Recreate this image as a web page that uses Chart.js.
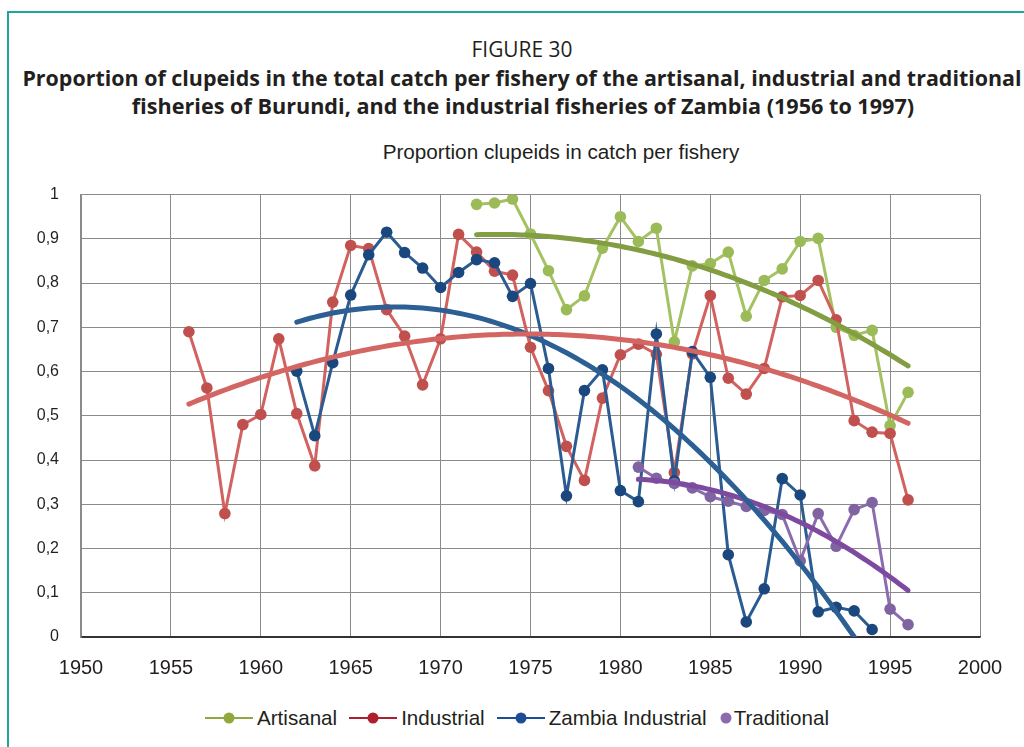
<!DOCTYPE html>
<html>
<head>
<meta charset="utf-8">
<script src="https://cdn.jsdelivr.net/npm/chart.js@4.4.1/dist/chart.umd.min.js"></script>
<style>
html,body{margin:0;padding:0;background:#fff;width:1024px;height:747px;overflow:hidden;position:relative;}
#frame{position:absolute;left:7px;top:11px;width:1100px;height:800px;border-left:2px solid #1fa59a;border-top:2px solid #1fa59a;}
.t{position:absolute;white-space:nowrap;color:#231f20;transform:translate(-50%,-50%);line-height:1;}
#fig{font-family:"Open Sans","Noto Sans",sans-serif;font-weight:400;font-size:18px;}
.bold{font-family:"Open Sans","Noto Sans",sans-serif;font-weight:700;font-size:20px;}
#sub{font-family:"Liberation Sans",Arial,sans-serif;font-size:20px;}
#wrap{position:absolute;left:0;top:163px;width:1024px;height:527px;}
#legend{position:absolute;left:205px;top:718px;transform:translateY(-50%);display:flex;align-items:center;font-family:"Liberation Sans",Arial,sans-serif;font-size:20.6px;color:#231f20;white-space:nowrap;}
#legend .item{display:flex;align-items:center;margin-right:12px;}
#legend svg{display:block;}
#legend span{margin-left:4px;}
</style>
</head>
<body>
<div id="frame"></div>
<div class="t" id="fig" style="left:522px;top:49px;">FIGURE 30</div>
<div class="t bold" id="l1" style="left:522px;top:78px;">Proportion of clupeids in the total catch per fishery of the artisanal, industrial and traditional</div>
<div class="t bold" id="l2" style="left:523px;top:106px;">fisheries of Burundi, and the industrial fisheries of Zambia (1956 to 1997)</div>
<div class="t" id="sub" style="left:561px;top:152px;">Proportion clupeids in catch per fishery</div>
<div id="wrap"><canvas id="c" width="1024" height="527"></canvas></div>
<div id="legend"></div>
<script>
// ---- Data ----
const artisanalYears = [1972,1973,1974,1975,1976,1977,1978,1979,1980,1981,1982,1983,1984,1985,1986,1987,1988,1989,1990,1991,1992,1993,1994,1995,1996];
const artisanalValues = [0.978,0.981,0.99,0.911,0.828,0.74,0.771,0.879,0.95,0.894,0.924,0.667,0.839,0.844,0.87,0.725,0.806,0.832,0.894,0.901,0.70,0.682,0.693,0.478,0.553];

const industrialYears = [1956,1957,1958,1959,1960,1961,1962,1963,1964,1965,1966,1967,1968,1969,1970,1971,1972,1973,1974,1975,1976,1977,1978,1979,1980,1981,1982,1983,1984,1985,1986,1987,1988,1989,1990,1991,1992,1993,1994,1995,1996];
const industrialValues = [0.69,0.563,0.279,0.48,0.503,0.674,0.505,0.387,0.757,0.885,0.878,0.74,0.68,0.57,0.674,0.91,0.87,0.827,0.818,0.655,0.557,0.431,0.354,0.54,0.638,0.662,0.639,0.372,0.64,0.772,0.585,0.549,0.607,0.769,0.772,0.806,0.717,0.489,0.463,0.46,0.31];

const zambiaYears = [1962,1963,1964,1965,1966,1967,1968,1969,1970,1971,1972,1973,1974,1975,1976,1977,1978,1979,1980,1981,1982,1983,1984,1985,1986,1987,1988,1989,1990,1991,1992,1993,1994];
const zambiaValues = [0.601,0.455,0.62,0.773,0.864,0.915,0.869,0.834,0.79,0.824,0.853,0.846,0.77,0.799,0.607,0.319,0.557,0.604,0.331,0.306,0.685,0.353,0.645,0.587,0.186,0.034,0.109,0.358,0.321,0.057,0.067,0.059,0.017];

const traditionalYears = [1981,1982,1983,1984,1985,1986,1987,1988,1989,1990,1991,1992,1993,1994,1995,1996];
const traditionalValues = [0.384,0.359,0.347,0.337,0.317,0.307,0.295,0.286,0.277,0.172,0.279,0.205,0.288,0.304,0.063,0.028];

const xTicks = [1950,1955,1960,1965,1970,1975,1980,1985,1990,1995,2000];
const yTicks = [0,0.1,0.2,0.3,0.4,0.5,0.6,0.7,0.8,0.9,1];
const seriesNames = ["Artisanal","Industrial","Zambia Industrial","Traditional"];

// ---- helpers ----
function pts(xs, ys){ return xs.map((x,i)=>({x:x,y:ys[i]})); }
function quadFit(xs, ys){
  const n = xs.length, m = xs.reduce((a,b)=>a+b,0)/n;
  let s = [0,0,0,0,0], t=[0,0,0];
  for(let i=0;i<n;i++){
    const u = xs[i]-m; let p=1;
    for(let k=0;k<5;k++){ s[k]+=p; p*=u; }
    t[0]+=ys[i]; t[1]+=ys[i]*u; t[2]+=ys[i]*u*u;
  }
  const A = [[s[0],s[1],s[2],t[0]],[s[1],s[2],s[3],t[1]],[s[2],s[3],s[4],t[2]]];
  for(let c=0;c<3;c++){
    for(let r=c+1;r<3;r++){ const f=A[r][c]/A[c][c]; for(let k=c;k<4;k++) A[r][k]-=f*A[c][k]; }
  }
  const b=[0,0,0];
  for(let r=2;r>=0;r--){ let v=A[r][3]; for(let k=r+1;k<3;k++) v-=A[r][k]*b[k]; b[r]=v/A[r][r]; }
  return x => { const u=x-m; return b[0]+b[1]*u+b[2]*u*u; };
}
function trend(xs, ys){
  const f = quadFit(xs, ys), out=[];
  const a = xs[0], z = xs[xs.length-1];
  for(let x=a; x<=z+1e-9; x+=0.25) out.push({x:x, y:f(x)});
  return out;
}

const series = [
  {name:seriesNames[0], xs:artisanalYears, ys:artisanalValues, line:'#a4c262', mark:'#9bbb59', trend:'#829d42', leg:'#8fa93f', order:7},
  {name:seriesNames[1], xs:industrialYears, ys:industrialValues, line:'#d2625f', mark:'#c0504d', trend:'#d36662', leg:'#ae1f2e', order:6},
  {name:seriesNames[2], xs:zambiaYears, ys:zambiaValues, line:'#2a5c91', mark:'#1a477d', trend:'#2c5f94', leg:'#1d4e95', order:5},
  {name:seriesNames[3], xs:traditionalYears, ys:traditionalValues, line:'#8b6cae', mark:'#8064a2', trend:'#7d4a9f', leg:'#8b6bae', order:4}
];

const datasets = [];
series.forEach((s,i)=>{
  datasets.push({
    label:s.name, data:pts(s.xs,s.ys), borderColor:s.line, backgroundColor:s.mark,
    pointBackgroundColor:s.mark, pointBorderColor:s.mark, pointBorderWidth:0,
    pointRadius:5.8, pointHoverRadius:5.8, borderWidth:3, tension:0, order:s.order
  });
});
series.forEach((s,i)=>{
  datasets.push({
    label:s.name+' trend', data:trend(s.xs,s.ys), borderColor:s.trend, backgroundColor:s.trend,
    pointRadius:0, pointHoverRadius:0, borderWidth:5, tension:0, borderCapStyle:'round', borderJoinStyle:'round', order:i
  });
});

const FONT = '"Liberation Sans", Arial, sans-serif';
new Chart(document.getElementById('c'), {
  type:'line',
  data:{datasets:datasets},
  options:{
    responsive:false, animation:false, devicePixelRatio:1,
    layout:{padding:{top:8,right:44,left:0,bottom:0}},
    plugins:{legend:{display:false}, title:{display:false}, tooltip:{enabled:false}},
    events:[],
    scales:{
      x:{type:'linear', min:1950, max:2000,
        afterBuildTicks: sc => { sc.ticks = xTicks.map(v=>({value:v})); },
        afterFit: sc => { sc.height = 53; },
        ticks:{font:{family:FONT,size:20}, color:'#231f20', padding:19, maxRotation:0, autoSkip:false, callback:v=>String(v)},
        grid:{color:'#8a8a8a', lineWidth:1, drawTicks:false},
        border:{color:'#333333', width:1.5}
      },
      y:{min:0, max:1,
        afterBuildTicks: sc => { sc.ticks = yTicks.map(v=>({value:v})); },
        afterFit: sc => { sc.width = 81; },
        ticks:{font:{family:FONT,size:16}, color:'#231f20', padding:22,
          callback:v=>{ const r=Math.round(v*10)/10; return (r===0||r===1)?String(r):r.toFixed(1).replace('.',','); }},
        grid:{color:(ctx)=> ctx.tick && ctx.tick.value===0 ? '#333333' : '#8a8a8a', lineWidth:1, drawTicks:false},
        border:{color:'#8a8a8a', width:1.5}
      }
    }
  }
});

// ---- legend ----
const lg = document.getElementById('legend');
series.forEach((s,i)=>{
  const it = document.createElement('div'); it.className='item';
  const ns='http://www.w3.org/2000/svg';
  const svg=document.createElementNS(ns,'svg');
  const w = i===3 ? 14 : 48;
  svg.setAttribute('width',w); svg.setAttribute('height',14);
  if(i!==3){
    const ln=document.createElementNS(ns,'line');
    ln.setAttribute('x1',0);ln.setAttribute('x2',w);ln.setAttribute('y1',7);ln.setAttribute('y2',7);
    ln.setAttribute('stroke',s.leg);ln.setAttribute('stroke-width',2.2);
    svg.appendChild(ln);
  }
  const c=document.createElementNS(ns,'circle');
  c.setAttribute('cx',w/2);c.setAttribute('cy',7);c.setAttribute('r',5.5);c.setAttribute('fill',s.leg);
  svg.appendChild(c);
  it.appendChild(svg);
  const sp=document.createElement('span'); sp.textContent=s.name; if(i===3) sp.style.marginLeft='1px';
  it.appendChild(sp);
  lg.appendChild(it);
});

// ---- fit title widths ----
function fitW(id, target){
  const el=document.getElementById(id);
  const w=el.getBoundingClientRect().width;
  const fs=parseFloat(getComputedStyle(el).fontSize);
  el.style.fontSize=(fs*target/w)+'px';
}
fitW('l1',1000);
fitW('l2',783);
fitW('fig',101);
fitW('sub',357);
</script>
</body>
</html>
